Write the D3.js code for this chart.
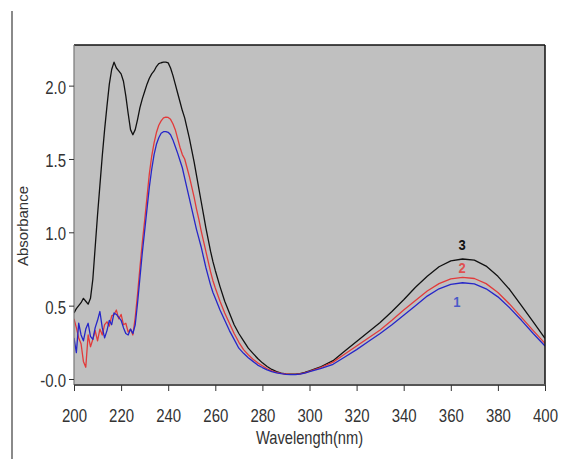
<!DOCTYPE html>
<html lang="en">
<head>
<meta charset="UTF-8">
<title>Absorbance spectra</title>
<script src="https://cdnjs.cloudflare.com/ajax/libs/d3/7.8.5/d3.min.js"></script>
<style>
  body { margin: 0; background: #fff; }
  svg { display: block; font-family: Arial, "Liberation Sans", sans-serif; }
  .tick text { fill: #333; font-size: 15px; }
  .tick line { stroke: #333; }
</style>
</head>
<body>
<div id="chart"></div>
<script>
// wavelength grid (nm)
const wavelengths = [
  200,201,202,203,204,205,206,207,208,209,210,211,212,213,214,215,216,217,218,219,
  220,221,222,223,224,225,226,227,228,229,230,231,232,233,234,235,236,237,238,239,
  240,241,242,243,244,245,246,247,248,249,250,251,252,253,254,255,256,257,258,259,260,
  262,264,266,268,270,272,274,276,278,280,282,284,286,288,290,292,294,296,298,300,
  305,310,315,320,325,330,335,340,345,350,355,360,365,370,375,380,385,390,395,400
];

// curve 3 (black)
const absorbance3 = [
  0.45,0.48,0.50,0.52,0.55,0.53,0.51,0.55,0.68,0.90,1.12,1.32,1.52,1.70,1.86,2.01,2.11,2.16,2.12,2.10,
  2.08,2.03,1.93,1.81,1.70,1.665,1.70,1.77,1.85,1.91,1.96,2.01,2.05,2.08,2.10,2.13,2.15,2.156,2.16,2.16,
  2.155,2.12,2.07,2.01,1.95,1.89,1.83,1.78,1.71,1.64,1.56,1.48,1.39,1.30,1.21,1.12,1.03,0.95,0.87,0.80,0.74,
  0.63,0.53,0.45,0.37,0.31,0.26,0.21,0.175,0.14,0.11,0.085,0.065,0.05,0.04,0.035,0.033,0.033,0.036,0.045,0.055,
  0.085,0.125,0.19,0.255,0.32,0.385,0.46,0.54,0.625,0.70,0.765,0.805,0.818,0.81,0.77,0.70,0.61,0.50,0.39,0.277
];

// curve 2 (red)
const absorbance2 = [
  0.41,0.35,0.28,0.24,0.12,0.08,0.30,0.22,0.27,0.33,0.26,0.34,0.30,0.37,0.39,0.36,0.43,0.44,0.47,0.41,
  0.44,0.37,0.38,0.32,0.34,0.30,0.42,0.58,0.76,0.93,1.08,1.24,1.40,1.52,1.61,1.68,1.73,1.76,1.78,1.785,
  1.783,1.77,1.74,1.70,1.64,1.58,1.53,1.50,1.44,1.38,1.31,1.24,1.16,1.09,1.01,0.94,0.87,0.80,0.73,0.67,0.62,
  0.53,0.45,0.38,0.31,0.25,0.20,0.165,0.135,0.11,0.09,0.07,0.055,0.045,0.038,0.034,0.032,0.032,0.035,0.042,0.052,
  0.08,0.115,0.17,0.225,0.28,0.334,0.40,0.47,0.535,0.60,0.65,0.683,0.693,0.685,0.65,0.59,0.51,0.42,0.33,0.243
];

// curve 1 (blue)
const absorbance1 = [
  0.28,0.18,0.38,0.30,0.26,0.34,0.38,0.29,0.27,0.35,0.40,0.46,0.35,0.28,0.33,0.40,0.37,0.45,0.44,0.42,
  0.40,0.35,0.31,0.30,0.34,0.31,0.37,0.52,0.69,0.86,1.01,1.16,1.31,1.43,1.53,1.60,1.645,1.675,1.686,1.687,
  1.682,1.665,1.63,1.585,1.54,1.49,1.44,1.37,1.30,1.23,1.16,1.09,1.02,0.96,0.90,0.83,0.76,0.70,0.64,0.59,0.55,
  0.47,0.40,0.33,0.27,0.21,0.175,0.145,0.12,0.095,0.078,0.062,0.05,0.042,0.036,0.032,0.03,0.03,0.033,0.04,0.05,
  0.072,0.10,0.15,0.20,0.255,0.31,0.37,0.435,0.50,0.565,0.615,0.645,0.656,0.648,0.615,0.56,0.485,0.40,0.31,0.225
];

const xTicks = [200,220,240,260,280,300,320,340,360,380,400];
const yTicks = [0,0.5,1.0,1.5,2.0];

const series = [
  { name: "3", values: absorbance3, color: "#111111", labelColor: "#111111", labelNm: 364.8, labelA: 0.88 },
  { name: "2", values: absorbance2, color: "#e23a3a", labelColor: "#e05050", labelNm: 364.8, labelA: 0.725 },
  { name: "1", values: absorbance1, color: "#2626c8", labelColor: "#4a5ac8", labelNm: 362.6, labelA: 0.49 }
];

const width = 568, height = 459;
const plot = { left: 74, right: 545, top: 45, bottom: 385 };

const svg = d3.select("#chart").append("svg")
  .attr("width", width)
  .attr("height", height);

const x = d3.scaleLinear().domain([200, 400]).range([plot.left, plot.right]);
const y = d3.scaleLinear().domain([-0.041, 2.277]).range([plot.bottom, plot.top]);

// stray page border line on the left
svg.append("line")
  .attr("x1", 12).attr("x2", 12).attr("y1", 11).attr("y2", height)
  .attr("stroke", "#8a8a8a").attr("stroke-width", 2);

// plot background
svg.append("rect")
  .attr("x", plot.left).attr("y", plot.top)
  .attr("width", plot.right - plot.left).attr("height", plot.bottom - plot.top)
  .attr("fill", "#c0c0c0");

// curves
const line = d3.line()
  .x((d, i) => x(wavelengths[i]))
  .y(d => y(d));

const clip = svg.append("clipPath").attr("id", "clip")
  .append("rect")
  .attr("x", plot.left).attr("y", plot.top)
  .attr("width", plot.right - plot.left).attr("height", plot.bottom - plot.top);

svg.append("g")
  .attr("clip-path", "url(#clip)")
  .selectAll("path")
  .data(series)
  .enter().append("path")
  .attr("d", d => line(d.values))
  .attr("fill", "none")
  .attr("stroke", d => d.color)
  .attr("stroke-width", 1.3)
  .attr("stroke-linejoin", "round");

// curve labels
svg.append("g")
  .selectAll("text")
  .data(series)
  .enter().append("text")
  .attr("transform", d => `translate(${x(d.labelNm)},${y(d.labelA)}) scale(1,1.15)`)
  .attr("text-anchor", "middle")
  .attr("font-size", 13)
  .attr("font-weight", "bold")
  .attr("fill", d => d.labelColor)
  .text(d => d.name);

// frame
svg.append("line") // top
  .attr("x1", plot.left).attr("x2", plot.right).attr("y1", plot.top).attr("y2", plot.top)
  .attr("stroke", "#111").attr("stroke-width", 1.5);
svg.append("line") // right
  .attr("x1", plot.right).attr("x2", plot.right).attr("y1", plot.top).attr("y2", plot.bottom)
  .attr("stroke", "#111").attr("stroke-width", 1.5);
svg.append("line") // left
  .attr("x1", plot.left).attr("x2", plot.left).attr("y1", plot.top).attr("y2", plot.bottom)
  .attr("stroke", "#777").attr("stroke-width", 1.2);
svg.append("line") // bottom
  .attr("x1", plot.left).attr("x2", plot.right).attr("y1", plot.bottom).attr("y2", plot.bottom)
  .attr("stroke", "#555").attr("stroke-width", 2);

// x axis
const xAxis = svg.append("g")
  .attr("transform", `translate(0,${plot.bottom})`)
  .call(d3.axisBottom(x).tickValues(xTicks).tickSize(6).tickSizeOuter(0).tickFormat(d3.format("d")));
xAxis.select(".domain").remove();
xAxis.selectAll(".tick text")
  .attr("y", null).attr("dy", null)
  .attr("transform", "translate(0,37) scale(1,1.25)");

// y axis
const yAxis = svg.append("g")
  .attr("transform", `translate(${plot.left},0)`)
  .call(d3.axisLeft(y).tickValues(yTicks).tickSize(5).tickSizeOuter(0)
    .tickFormat(d => d === 0 ? "-0.0" : d3.format(".1f")(d)));
yAxis.select(".domain").remove();
yAxis.selectAll(".tick text")
  .attr("x", null).attr("dy", null)
  .attr("transform", "translate(-8,7.5) scale(1,1.2)");

// axis titles
svg.append("text")
  .attr("transform", `translate(${(plot.left + plot.right) / 2},444) scale(1,1.25)`)
  .attr("text-anchor", "middle")
  .attr("font-size", 14.7)
  .attr("fill", "#333")
  .text("Wavelength(nm)");

svg.append("text")
  .attr("transform", "translate(28,226) rotate(-90)")
  .attr("text-anchor", "middle")
  .attr("font-size", 15)
  .attr("fill", "#333")
  .text("Absorbance");
</script>
</body>
</html>
